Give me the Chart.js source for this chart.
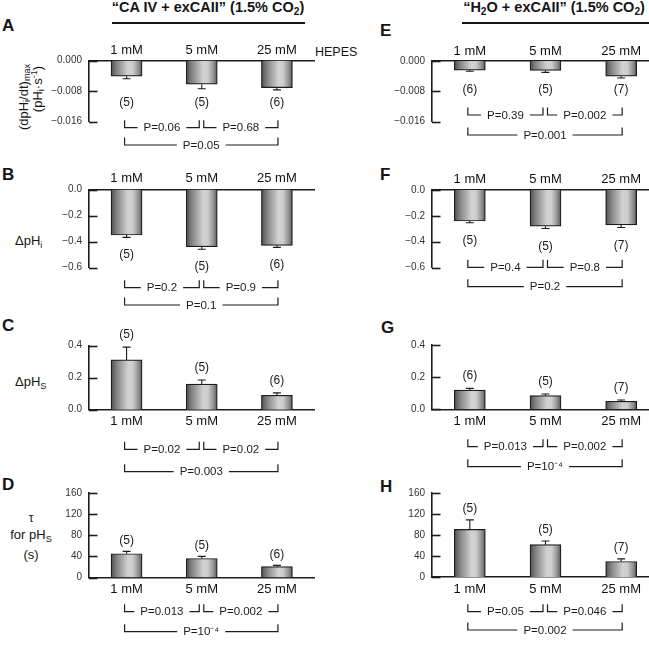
<!DOCTYPE html>
<html>
<head>
<meta charset="utf-8">
<script src="https://cdn.jsdelivr.net/npm/chart.js@4.4.1/dist/chart.umd.min.js"></script>
<style>
html, body { margin: 0; padding: 0; background: #fff; overflow: hidden; width: 649px; height: 645px; }
body { position: relative; font-family: "Liberation Sans", Arial, sans-serif; color: #151515; }
canvas { position: absolute; }
.t { position: absolute; white-space: nowrap; line-height: 1; }
.c { transform: translateX(-50%); }
.rot { transform: translate(-50%, -50%) rotate(-90deg); }
.ttl { font-weight: bold; font-size: 14.5px; }
.let { font-weight: bold; font-size: 17px; }
.rule { position: absolute; height: 2px; background: #151515; }
sub { font-size: 0.7em; vertical-align: -0.3em; line-height: 0; }
sup { font-size: 0.7em; vertical-align: 0.55em; line-height: 0; }
</style>
</head>
<body>
<div class="t ttl c" style="left:208px;top:0px">“CA IV + exCAII” (1.5% CO<sub>2</sub>)</div>
<div class="rule" style="left:112px;top:22px;width:193px"></div>
<div class="t ttl c" style="left:554px;top:0px">“H<sub>2</sub>O + exCAII” (1.5% CO<sub>2</sub>)</div>
<div class="rule" style="left:462px;top:22px;width:187px"></div>

<div class="t let" style="left:2px;top:17px">A</div>
<div class="t let" style="left:2px;top:166px">B</div>
<div class="t let" style="left:2px;top:317px">C</div>
<div class="t let" style="left:2px;top:476px">D</div>
<div class="t let" style="left:380px;top:22px">E</div>
<div class="t let" style="left:380px;top:166px">F</div>
<div class="t let" style="left:381px;top:319px">G</div>
<div class="t let" style="left:380px;top:478px">H</div>

<div class="t" style="left:315px;top:46px;font-size:12.5px">HEPES</div>

<div class="t rot" style="left:23px;top:97px;font-size:13px">(dpH<sub>i</sub>/dt)<sub>max</sub></div>
<div class="t rot" style="left:37px;top:89px;font-size:13px">(pH<sub>i</sub>·s<sup>-1</sup>)</div>
<div class="t" style="left:15px;top:234px;font-size:13px">ΔpH<sub>i</sub></div>
<div class="t" style="left:15px;top:375px;font-size:13px">ΔpH<sub>S</sub></div>
<div class="t c" style="left:31px;top:512px;font-size:12px">τ</div>
<div class="t c" style="left:31px;top:528px;font-size:13px">for pH<sub>S</sub></div>
<div class="t c" style="left:31px;top:548px;font-size:13px">(s)</div>

<canvas id="cA"></canvas>
<canvas id="cB"></canvas>
<canvas id="cC"></canvas>
<canvas id="cD"></canvas>
<canvas id="cE"></canvas>
<canvas id="cF"></canvas>
<canvas id="cG"></canvas>
<canvas id="cH"></canvas>

<script>
var doses = ['1 mM', '5 mM', '25 mM'];

// tick labels
var rateTicks = [-0.016, -0.008, 0];
var dpHiTicks = [-0.6, -0.4, -0.2, 0];
var dpHsTicks = [0, 0.2, 0.4];
var tauTicks = [0, 40, 80, 120, 160];

// "CA IV + exCAII" (A-D)
var caRate = [-0.0041, -0.0062, -0.0071];
var caRateErr = [0.0007, 0.0012, 0.0006];
var caRateN = [5, 5, 6];
var caRateP = ['P=0.06', 'P=0.68', 'P=0.05'];

var caDpHi = [-0.35, -0.44, -0.43];
var caDpHiErr = [0.018, 0.02, 0.015];
var caDpHiN = [5, 5, 6];
var caDpHiP = ['P=0.2', 'P=0.9', 'P=0.1'];

var caDpHs = [0.31, 0.16, 0.09];
var caDpHsErr = [0.08, 0.025, 0.015];
var caDpHsN = [5, 5, 6];
var caDpHsP = ['P=0.02', 'P=0.02', 'P=0.003'];

var caTau = [45, 36, 20.5];
var caTauErr = [4.5, 4, 2.5];
var caTauN = [5, 5, 6];
var caTauP = ['P=0.013', 'P=0.002', 'P=10⁻⁴'];

// "H2O + exCAII" (E-H)
var h2oRate = [-0.0024, -0.0025, -0.0040];
var h2oRateErr = [0.0003, 0.0005, 0.0005];
var h2oRateN = [6, 5, 7];
var h2oRateP = ['P=0.39', 'P=0.002', 'P=0.001'];

var h2oDpHi = [-0.24, -0.28, -0.27];
var h2oDpHiErr = [0.013, 0.018, 0.02];
var h2oDpHiN = [5, 5, 7];
var h2oDpHiP = ['P=0.4', 'P=0.8', 'P=0.2'];

var h2oDpHs = [0.12, 0.085, 0.05];
var h2oDpHsErr = [0.01, 0.01, 0.008];
var h2oDpHsN = [6, 5, 7];
var h2oDpHsP = ['P=0.013', 'P=0.002', 'P=10⁻⁴'];

var h2oTau = [91, 62, 30];
var h2oTauErr = [18, 7, 5];
var h2oTauN = [5, 5, 7];
var h2oTauP = ['P=0.05', 'P=0.046', 'P=0.002'];

var FAM = '"Liberation Sans", Arial, sans-serif';
Chart.defaults.font.family = FAM;
var INK = '#1c1c1c';

function barGradient(ctx, bar) {
  var h = bar.width / 2;
  var g = ctx.createLinearGradient(bar.x - h, 0, bar.x + h, 0);
  g.addColorStop(0, '#4c4c4c');
  g.addColorStop(0.15, '#7c7c7c');
  g.addColorStop(0.55, '#d2d2d2');
  g.addColorStop(0.7, '#cdcdcd');
  g.addColorStop(0.9, '#8a8a8a');
  g.addColorStop(1, '#525252');
  return g;
}

function bracket(ctx, x0, x1, y, text) {
  ctx.font = '11.5px ' + FAM;
  var w = ctx.measureText(text).width, m = (x0 + x1) / 2, g = 6;
  ctx.beginPath();
  ctx.moveTo(x0, y - 7.5); ctx.lineTo(x0, y); ctx.lineTo(m - w / 2 - g, y);
  ctx.moveTo(m + w / 2 + g, y); ctx.lineTo(x1, y); ctx.lineTo(x1, y - 7.5);
  ctx.stroke();
  ctx.textAlign = 'center';
  ctx.textBaseline = 'middle';
  ctx.fillText(text, m, y + 0.5);
}

function panel(id, vals, err, n, p, ticks, dec, lay) {
  var cv = document.getElementById(id);
  var bx = lay.box, ar = lay.area;
  cv.width = bx[2]; cv.height = bx[3];
  cv.style.left = bx[0] + 'px'; cv.style.top = bx[1] + 'px';
  var l = ar[0] - bx[0], t = ar[1] - bx[1], r = ar[2] - bx[0], b = ar[3] - bx[1];
  var neg = vals[0] < 0;

  var marks = {
    id: 'marks',
    beforeDatasetsDraw: function (ch) {
      // each bar gets its own shaded fill, sitting on its own x range
      ch.getDatasetMeta(0).data.forEach(function (bar) {
        bar.options = Object.assign({}, bar.options, {backgroundColor: barGradient(ch.ctx, bar)});
      });
    },
    afterDraw: function (ch) {
      var ctx = ch.ctx, xs = ch.scales.x, ys = ch.scales.y;
      var bars = ch.getDatasetMeta(0).data;
      ctx.save();
      ctx.strokeStyle = INK;
      ctx.fillStyle = INK;
      // inward tick marks
      ctx.lineWidth = 1.6;
      ys.ticks.forEach(function (tk) {
        var y = Math.round(ys.getPixelForValue(tk.value)) + 0.5;
        ctx.beginPath(); ctx.moveTo(ys.right, y); ctx.lineTo(ys.right + 8.5, y); ctx.stroke();
      });
      // error bars (one-sided, away from zero)
      ctx.lineWidth = 1.1;
      var ends = [];
      bars.forEach(function (bar, i) {
        var y0 = ys.getPixelForValue(vals[i]);
        var y1 = ys.getPixelForValue(vals[i] + (neg ? -err[i] : err[i]));
        ends.push(y1);
        ctx.beginPath();
        ctx.moveTo(bar.x, y0); ctx.lineTo(bar.x, y1);
        ctx.moveTo(bar.x - 4, y1); ctx.lineTo(bar.x + 4, y1);
        ctx.stroke();
      });
      // n labels
      ctx.font = '12px ' + FAM;
      ctx.textAlign = 'center';
      ctx.textBaseline = 'middle';
      var rowY = neg ? Math.max.apply(null, ends) : Math.min.apply(null, ends);
      bars.forEach(function (bar, i) {
        var y = (lay.nRow ? rowY : ends[i]) + (neg ? lay.nOff : -lay.nOff);
        ctx.fillText('(' + n[i] + ')', bar.x, y);
      });
      // significance brackets
      ctx.lineWidth = 1.2;
      var c0 = xs.getPixelForValue(0), c1 = xs.getPixelForValue(1), c2 = xs.getPixelForValue(2);
      var ys1 = lay.br[0] - bx[1], ys2 = lay.br[1] - bx[1];
      bracket(ctx, c0 - 2, c1 - 2.5, ys1, p[0]);
      bracket(ctx, c1 + 2, c2 + 1, ys1, p[1]);
      bracket(ctx, c0 - 2, c2 + 1, ys2, p[2]);
      ctx.restore();
    }
  };

  return new Chart(cv, {
    type: 'bar',
    data: {
      labels: doses,
      datasets: [{data: vals, backgroundColor: '#aaaaaa', borderColor: INK, borderWidth: 1.2, barThickness: 31}]
    },
    options: {
      responsive: false,
      animation: false,
      devicePixelRatio: 1,
      layout: {padding: {left: 0, right: bx[2] - r, top: neg ? 0 : t, bottom: neg ? bx[3] - b : 0}},
      plugins: {legend: {display: false}, tooltip: {enabled: false}},
      scales: {
        x: {
          position: neg ? 'top' : 'bottom',
          grid: {display: false, drawTicks: false},
          border: {color: INK, width: 1.6},
          ticks: {color: '#111', font: {size: 13}, padding: lay.xPad, maxRotation: 0, autoSkip: false},
          afterFit: function (s) { s.height = neg ? t : bx[3] - b; }
        },
        y: {
          min: ticks[0],
          max: ticks[ticks.length - 1],
          grid: {display: false, drawTicks: false},
          border: {color: INK, width: 1.6},
          ticks: {
            color: '#333', font: {size: 10}, padding: 7,
            callback: function (v) {
              if (Math.abs(v) < 1e-12) v = 0;
              return v.toFixed(dec).replace('-', '\u2212');
            }
          },
          afterBuildTicks: function (s) { s.ticks = ticks.map(function (v) { return {value: v}; }); },
          afterFit: function (s) { s.width = l; }
        }
      }
    },
    plugins: [marks]
  });
}

// left column: CA IV + exCAII
panel('cA', caRate, caRateErr, caRateN, caRateP, rateTicks, 3,
  {box: [0, 40, 330, 115], area: [89, 60.5, 314.5, 121.5], xPad: 2, nRow: true, nOff: 13, br: [127.7, 145]});
panel('cB', caDpHi, caDpHiErr, caDpHiN, caDpHiP, dpHiTicks, 1,
  {box: [0, 165, 330, 150], area: [89, 189.5, 314.5, 267.5], xPad: 3, nRow: false, nOff: 17, br: [287.7, 305]});
panel('cC', caDpHs, caDpHsErr, caDpHsN, caDpHsP, dpHsTicks, 1,
  {box: [0, 318, 330, 162], area: [89, 345.5, 314.5, 409.7], xPad: 4, nRow: false, nOff: 12.5, br: [449.3, 471.7]});
panel('cD', caTau, caTauErr, caTauN, caTauP, tauTicks, 0,
  {box: [0, 480, 330, 165], area: [89, 491, 314.5, 577.5], xPad: 4, nRow: false, nOff: 11, br: [611.7, 631.7]});

// right column: H2O + exCAII
panel('cE', h2oRate, h2oRateErr, h2oRateN, h2oRateP, rateTicks, 3,
  {box: [330, 40, 330, 115], area: [432, 61, 659, 121.5], xPad: 2, nRow: true, nOff: 12, br: [115, 135]});
panel('cF', h2oDpHi, h2oDpHiErr, h2oDpHiN, h2oDpHiP, dpHiTicks, 1,
  {box: [330, 165, 330, 150], area: [432, 190, 659, 267.5], xPad: 3, nRow: false, nOff: 18, br: [267.3, 286.7]});
panel('cG', h2oDpHs, h2oDpHsErr, h2oDpHsN, h2oDpHsP, dpHsTicks, 1,
  {box: [330, 318, 330, 162], area: [432, 345, 659, 409.3], xPad: 4, nRow: false, nOff: 12.5, br: [446.7, 466.7]});
panel('cH', h2oTau, h2oTauErr, h2oTauN, h2oTauP, tauTicks, 0,
  {box: [330, 480, 330, 165], area: [432, 490.5, 659, 577.3], xPad: 4, nRow: false, nOff: 11, br: [611.7, 630]});
</script>
</body>
</html>
